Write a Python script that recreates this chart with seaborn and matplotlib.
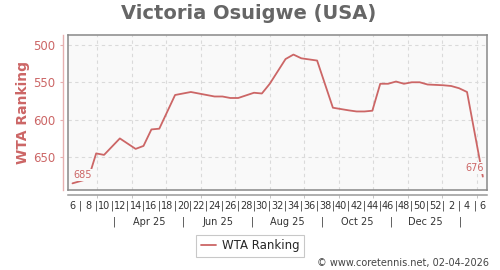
import matplotlib
matplotlib.use("Agg")
import matplotlib.pyplot as plt
import seaborn as sns
import pandas as pd

# ---- data (continuous week numbers: 53.. = weeks of 2026) ----
weeks = [6, 8, 9, 10, 12, 14, 15, 16, 17, 19, 21, 22, 24, 25, 26, 27, 29, 30, 31, 33,
         34, 35, 37, 39, 41, 42, 43, 44, 45, 46, 47, 48, 49, 50, 51, 53, 54, 55, 56, 58]
ranks = [685, 679, 645, 647, 625, 639, 635, 613, 612, 567, 563, 565, 569, 569, 571, 571, 564, 565, 552, 519,
         513, 518, 521, 584, 587.5, 589, 589, 588, 552, 552, 549, 552, 550, 550, 553, 554, 555, 558, 563, 676]
week_ticks = list(range(6, 59))
week_labels = [(str(w if w <= 52 else w - 52) if w % 2 == 0 else "|") for w in week_ticks]
month_labels = ["Apr 25", "Jun 25", "Aug 25", "Oct 25", "Dec 25"]
month_seps = [11.3, 20.1, 28.8, 37.7, 46.4, 55.1]
y_ticks = [500, 550, 600, 650]
series_name = "WTA Ranking"
title = "Victoria Osuigwe (USA)"
credit = "\u00a9 www.coretennis.net, 02-04-2026"

RED = "#cc6666"
PINK = "#e6b0b0"
FRAME = "#888888"
BG = "#f9f9f9"

df = pd.DataFrame({"week": weeks, "rank": ranks})

sns.set_style("white")
plt.rcParams["font.family"] = ["DejaVu Sans"]

fig = plt.figure(figsize=(5, 2.7), dpi=100)
ax = fig.add_axes([0.136, 0.296, 0.838, 0.574])
ax.set_facecolor(BG)

sns.lineplot(data=df, x="week", y="rank", ax=ax, color=RED, lw=1.3,
             label=series_name, legend=False)

ax.set_xlim(5.43, 58.53)
ax.set_ylim(694, 487)

# gridlines
grid_x = [9.14 + k * 4.373 for k in range(12)]
ax.set_xticks(grid_x)
ax.set_yticks(y_ticks)
ax.tick_params(length=0, labelleft=False, labelbottom=False)
ax.grid(True, ls=(0, (3, 3)), color="#dadada", lw=0.8)
ax.set_xlabel("")
ax.set_ylabel("")
for s in ax.spines.values():
    s.set_color(FRAME)
    s.set_linewidth(1.1)

# end labels
ax.annotate(str(ranks[0]), (weeks[0], ranks[0]), xytext=(0.5, 2.5), textcoords="offset points",
            ha="left", va="bottom", fontsize=7, color=RED,
            bbox=dict(boxstyle="square,pad=0.1", fc=BG, ec="none"))
ax.annotate(str(ranks[-1]), (weeks[-1], ranks[-1]), xytext=(0.5, 2.5), textcoords="offset points",
            ha="right", va="bottom", fontsize=7, color=RED,
            bbox=dict(boxstyle="square,pad=0.1", fc=BG, ec="none"))

# y axis (separate red axis)
sy = ax.secondary_yaxis(-0.012)
sy.set_yticks(y_ticks)
sy.spines["left"].set_color(PINK)
sy.spines["left"].set_linewidth(1.0)
sy.tick_params(axis="y", color=PINK, length=2.4, width=0.8, labelcolor=RED, labelsize=8.5, pad=3)
sy.set_ylabel(series_name, fontsize=10, fontweight="bold", color=RED, labelpad=2)

# x axis (week numbers)
sx = ax.secondary_xaxis(-0.032)
sx.set_xticks(week_ticks)
sx.set_xticklabels(week_labels)
sx.set_xticks([w for w in week_ticks if w % 2 == 1] + grid_x, minor=True)
sx.spines["bottom"].set_color("#999999")
sx.spines["bottom"].set_linewidth(1.1)
sx.tick_params(axis="x", which="major", length=0, labelsize=7, labelcolor="#333333", pad=4)
sx.tick_params(axis="x", which="minor", length=2, width=0.6, color="#bbbbbb")

# month row
trans = ax.get_xaxis_transform()
for xs in month_seps:
    ax.text(xs, -0.205, "|", transform=trans, ha="center", va="center", fontsize=7, color="#333333")
for i, lab in enumerate(month_labels):
    xm = (month_seps[i] + month_seps[i + 1]) / 2
    ax.text(xm, -0.205, lab, transform=trans, ha="center", va="center", fontsize=7, color="#333333")

# legend
h, l = ax.get_legend_handles_labels()
leg = fig.legend(h, l, loc="center", bbox_to_anchor=(0.5, 0.089), fontsize=8.5, frameon=True,
                 fancybox=False, handlelength=1.3, handletextpad=0.5, borderpad=0.35)
leg.get_frame().set_edgecolor("#bbbbbb")
leg.get_frame().set_linewidth(0.8)

fig.text(0.498, 0.93, title, ha="center", va="baseline", fontsize=14, fontweight="bold", color="#666666")
fig.text(0.978, 0.026, credit, ha="right", va="center", fontsize=7, color="#444444")

fig.savefig("out.png", dpi=100)
